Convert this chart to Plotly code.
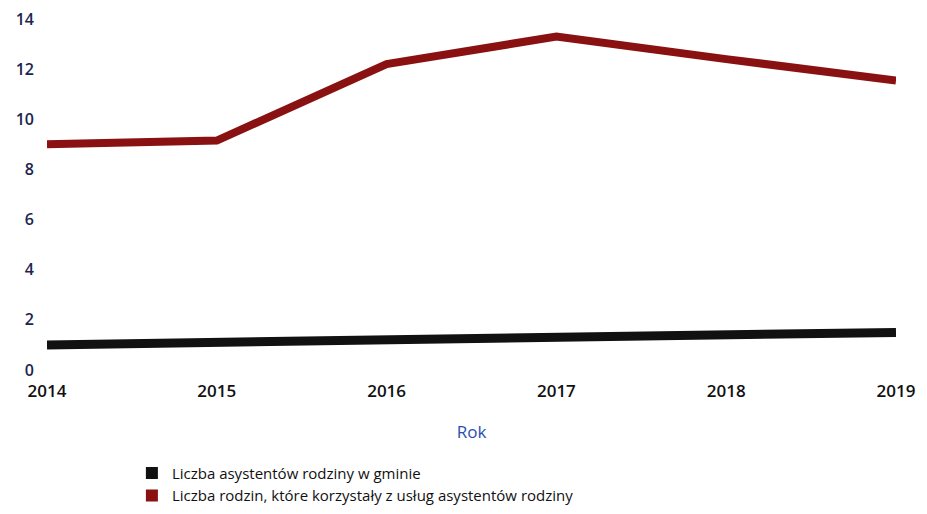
import plotly.graph_objects as go

# data
years = [2014, 2015, 2016, 2017, 2018, 2019]
asystenci = [1.0, 1.1, 1.2, 1.3, 1.4, 1.5]
rodziny = [9.0, 9.15, 12.2, 13.3, 12.4, 11.55]
y_ticks = [0, 2, 4, 6, 8, 10, 12, 14]

names = ["Liczba asystentów rodziny w gminie",
         "Liczba rodzin, które korzystały z usług asystentów rodziny"]
colors = ["#111111", "#8a1111"]

fig = go.Figure()

# the two lines (legend handled by square markers below)
for vals, col, w in [(asystenci, colors[0], 9), (rodziny, colors[1], 8)]:
    fig.add_trace(go.Scatter(
        x=years, y=vals, mode="lines",
        line=dict(color=col, width=w),
        showlegend=False, hoverinfo="x+y"
    ))

# square legend entries
for name, col in zip(names, colors):
    fig.add_trace(go.Scatter(
        x=[None], y=[None], mode="markers", name=name,
        marker=dict(symbol="square", size=12, color=col)
    ))

# page body has an 8px margin, so the figure is a bit smaller than the window
fig.update_layout(
    width=911, height=498,
    paper_bgcolor="white", plot_bgcolor="white",
    margin=dict(l=39, r=23, t=11, b=136),
    font=dict(family="Open Sans", size=16, color="#111111"),
    xaxis=dict(
        range=[2014, 2019], tickvals=years, showgrid=False, zeroline=False,
        showline=False, ticks="", automargin=False, ticklabelstandoff=9,
        ticklabeloverflow="allow",
        tickfont=dict(size=17, color="#111111", weight=600),
        title=dict(text="Rok", font=dict(size=17, color="#2a4fb0"), standoff=25),
    ),
    yaxis=dict(
        range=[0, 14], tickvals=y_ticks, showgrid=False, zeroline=False,
        showline=False, ticks="", ticklabelstandoff=12, automargin=False,
        ticklabeloverflow="allow",
        tickfont=dict(size=16, color="#1b2550", weight=600),
    ),
    legend=dict(
        x=0.10, y=0.099, xanchor="left", yanchor="top", yref="container",
        font=dict(size=15, color="#111111"),
        itemwidth=30, tracegroupgap=0, bgcolor="rgba(0,0,0,0)",
    ),
)

fig.write_html("out.html")
